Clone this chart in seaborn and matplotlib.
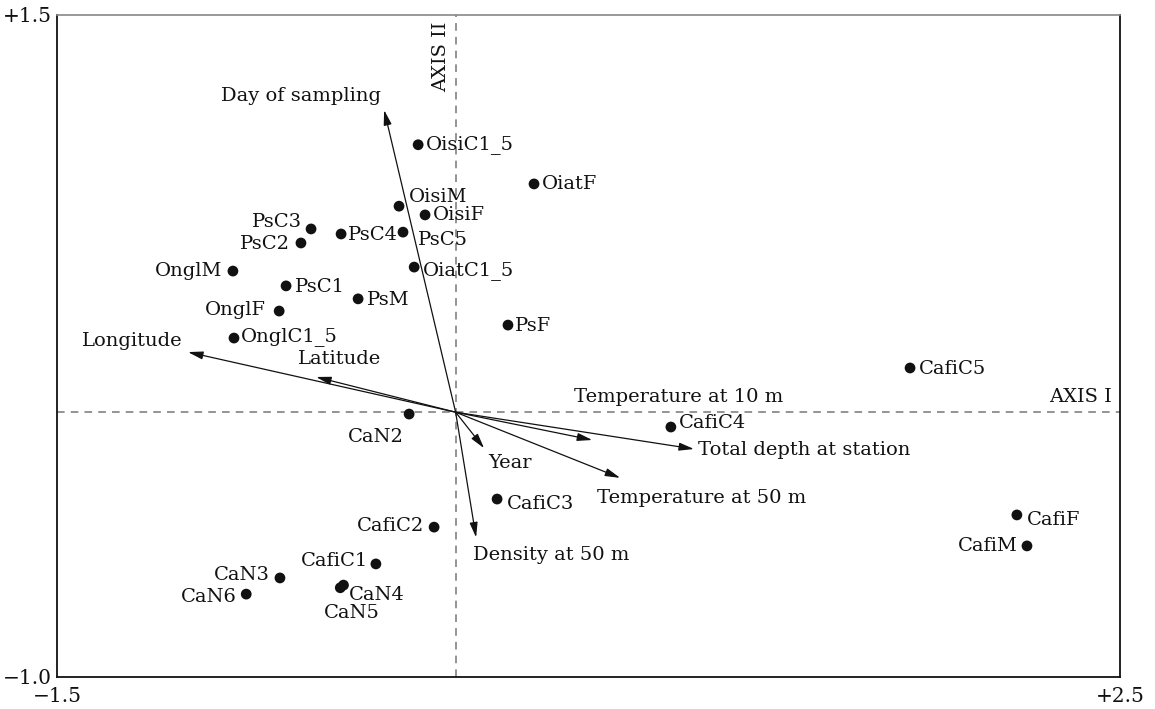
import matplotlib
matplotlib.use("Agg")
import matplotlib.pyplot as plt
import seaborn as sns
import pandas as pd

# ---- data -------------------------------------------------------------
species = ["OisiC1_5", "OiatF", "OisiM", "OisiF", "PsC3", "PsC2", "PsC4", "PsC5",
           "OnglM", "OiatC1_5", "PsC1", "PsM", "OnglF", "OnglC1_5", "PsF", "CafiC5",
           "CaN2", "CafiC4", "CafiC3", "CafiC2", "CafiF", "CafiM", "CafiC1", "CaN3",
           "CaN4", "CaN5", "CaN6"]
axis1 = [-0.141, 0.295, -0.213, -0.115, -0.544, -0.582, -0.431, -0.198,
         -0.838, -0.156, -0.638, -0.367, -0.664, -0.834, 0.197, 1.710,
         -0.175, 0.810, 0.156, -0.081, 2.112, 2.150, -0.300, -0.661,
         -0.422, -0.434, -0.788]
axis2 = [1.010, 0.862, 0.778, 0.745, 0.692, 0.639, 0.673, 0.680,
         0.533, 0.548, 0.477, 0.428, 0.382, 0.280, 0.329, 0.167,
         -0.007, -0.056, -0.328, -0.434, -0.388, -0.505, -0.573, -0.626,
         -0.653, -0.663, -0.687]

env_vars = ["Day of sampling", "Longitude", "Latitude", "Temperature at 10 m",
            "Total depth at station", "Year", "Temperature at 50 m", "Density at 50 m"]
env_axis1 = [-0.269, -1.007, -0.525, 0.514, 0.897, 0.107, 0.619, 0.077]
env_axis2 = [1.141, 0.227, 0.133, -0.105, -0.139, -0.136, -0.248, -0.473]

x_ticks = [-1.5, -1.0, -0.5, 0.0, 0.5, 1.0, 1.5, 2.0, 2.5]
x_ticklabels = ["\u22121.5", "", "", "", "", "", "", "", "+2.5"]
y_ticks = [-1.0, -0.5, 0.0, 0.5, 1.0, 1.5]
y_ticklabels = ["\u22121.0", "", "", "", "", "+1.5"]

# ---- layout (label offsets in pixels, alignment) -----------------------
sp_off = {
    "OisiC1_5": (8, 0, "left"), "OiatF": (8, 0, "left"), "OisiM": (10, 9, "left"),
    "OisiF": (8, 0, "left"), "PsC3": (-9, 7, "right"), "PsC2": (-11, -1, "right"),
    "PsC4": (7, -1, "left"), "PsC5": (15, -8, "left"), "OnglM": (-11, 0, "right"),
    "OiatC1_5": (9, -3, "left"), "PsC1": (9, -1, "left"), "PsM": (9, -1, "left"),
    "OnglF": (-13, 1, "right"), "OnglC1_5": (7, 2, "left"), "PsF": (7, -1, "left"),
    "CafiC5": (9, -1, "left"), "CaN2": (-5, -23, "right"), "CafiC4": (8, 4, "left"),
    "CafiC3": (10, -5, "left"), "CafiC2": (-10, 1, "right"), "CafiF": (10, -5, "left"),
    "CafiM": (-9, 0, "right"), "CafiC1": (-8, 3, "right"), "CaN3": (-10, 3, "right"),
    "CaN4": (5, -10, "left"), "CaN5": (12, -25, "center"), "CaN6": (-9, -3, "right"),
}
env_off = {
    "Day of sampling": (-83, 14, "center"), "Longitude": (-5, 11, "right"),
    "Latitude": (-18, 18, "left"), "Temperature at 10 m": (-18, 43, "left"),
    "Total depth at station": (4, -1, "left"), "Year": (4, -15, "left"),
    "Temperature at 50 m": (-23, -20, "left"), "Density at 50 m": (-3, -18, "left"),
}

sns.set_theme(style="white")
plt.rcParams["font.family"] = ["DejaVu Serif"]
plt.rcParams["font.size"] = 12

fig = plt.figure(figsize=(11.55, 7.09), dpi=100)
ax = fig.add_axes([57 / 1155, 1 - 677 / 709, (1120 - 57) / 1155, (677 - 15) / 709])

df = pd.DataFrame({"species": species, "axis1": axis1, "axis2": axis2})
ax.axhline(0, color="#777777", lw=1.1, ls=(0, (5, 4)), zorder=1)
ax.axvline(0, color="#777777", lw=1.1, ls=(0, (5, 4)), zorder=1)

sns.scatterplot(data=df, x="axis1", y="axis2", ax=ax, color="#111111",
                s=60, edgecolor="none", zorder=3, legend=False)

fs = 14
for name, x, y in zip(species, axis1, axis2):
    dx, dy, ha = sp_off[name]
    ax.annotate(name, (x, y), xytext=(dx, dy), textcoords="offset pixels",
                ha=ha, va="center", fontsize=fs, color="#111111")

for name, x, y in zip(env_vars, env_axis1, env_axis2):
    ax.annotate("", xy=(x, y), xytext=(0, 0),
                arrowprops=dict(arrowstyle="-|>,head_length=0.75,head_width=0.2",
                                mutation_scale=12,
                                color="#111111", lw=0.9, shrinkA=0, shrinkB=0),
                zorder=2)
    dx, dy, ha = env_off[name]
    ax.annotate(name, (x, y), xytext=(dx, dy), textcoords="offset pixels",
                ha=ha, va="center", fontsize=fs, color="#111111")

ax.text(-0.055, 1.341, "AXIS II", rotation=90, ha="center", va="center",
        fontsize=fs, color="#111111")
ax.text(2.47, 0.057, "AXIS I", ha="right", va="center", fontsize=fs, color="#111111")

ax.set_xlim(-1.5, 2.5)
ax.set_ylim(-1.0, 1.5)
ax.set_xticks(x_ticks)
ax.set_xticklabels(x_ticklabels)
ax.set_yticks(y_ticks)
ax.set_yticklabels(y_ticklabels)
ax.set_xlabel("")
ax.set_ylabel("")
ax.tick_params(axis="both", direction="in", length=15, width=1, color="#222222",
               labelsize=14.5, labelcolor="#111111")
ax.tick_params(axis="x", pad=7)
ax.tick_params(axis="y", pad=4)

for side in ["left", "bottom", "right"]:
    ax.spines[side].set_color("#111111")
    ax.spines[side].set_linewidth(1.3)
ax.spines["top"].set_color("#888888")
ax.spines["top"].set_linewidth(1.2)

fig.savefig("out.png", dpi=100)
